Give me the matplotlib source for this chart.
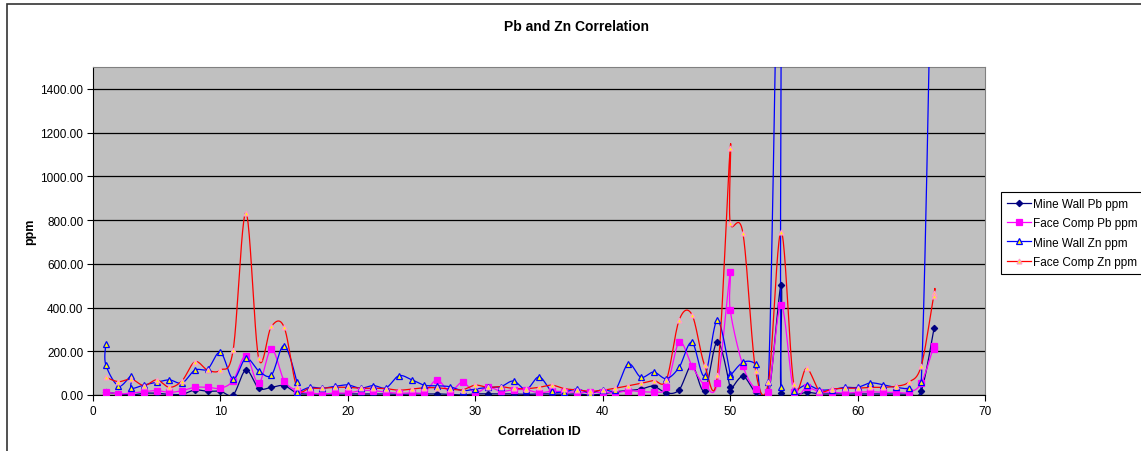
import numpy as np
import matplotlib.pyplot as plt
from matplotlib.lines import Line2D
from matplotlib.patches import Rectangle

plt.rcParams['font.family'] = ['Liberation Sans', 'DejaVu Sans']

nan = np.nan

# correlation ids (some ids were sampled twice)
ids = [1, 1, 2, 3, 3, 4, 5, 6, 7, 8, 9, 10, 11, 12, 13, 14, 15, 16, 16, 17,
       18, 19, 20, 21, 22, 23, 24, 25, 26, 27, 28, 29, 30, 31, 32, 33, 34, 35,
       36, 37, 38, 39, 40, 41, 42, 43, 44, 45, 46, 47, 48, 49, 50, 50, 51, 52,
       53, 54, 54, 55, 56, 57, 58, 59, 60, 61, 62, 63, 64, 65, 66, 66]

mine_wall_pb = [13, nan, 5, 0, nan, 8, 8, 3, 3, 23, 17, 17, 1, 114, 31, 35, 43, 9, nan, 5,
                5, 5, 5, 5, 5, 5, 3, 5, 5, 5, 3, 0, 5, 5, 5, 5, 3, 5,
                5, 3, 5, 0, 5, 15, 20, 27, 40, 9, 24, 134, 20, 244, 35, 20, 85, 12,
                0, 503, 9, 0, 12, 5, 5, 5, 5, 5, 5, 5, 5, 20, 305, nan]

face_comp_pb = [15, nan, 5, 9, nan, 15, 20, 12, 20, 35, 35, 31, 66, 180, 53, 210, 66, 20, nan, 9,
                5, 9, 9, 20, 20, 13, 8, 10, 13, 69, 16, 58, 10, 37, 17, 24, 24, 10,
                17, 15, 12, 12, 12, 10, 20, 15, 15, 35, 241, 134, 46, 55, 561, 390, 134, 27,
                15, 412, nan, 15, 35, 15, 12, 9, 12, 15, 12, 12, 12, 55, 226, 211]

mine_wall_zn = [233, 139, 41, 87, 32, 46, 58, 69, 55, 114, 119, 195, 73, 168, 111, 91, 226, 61, 15, 35,
                31, 40, 46, 31, 43, 33, 88, 70, 45, 42, 38, 20, 27, 35, 38, 64, 25, 83,
                18, 15, 27, 10, 25, 25, 142, 81, 105, 75, 127, 241, 88, 342, 96, 88, 149, 142,
                61, 2800, 38, 20, 46, 24, 25, 35, 35, 55, 47, 35, 31, 61, 2700, nan]

face_comp_zn = [81, nan, 61, 73, nan, 43, 69, 35, 66, 152, 114, 114, 206, 833, 168, 314, 310, 35, nan, 31,
                31, 35, 35, 31, 31, 29, 22, 27, 33, 33, 27, 24, 45, 35, 38, 30, 29, 35,
                45, 29, 23, 17, 22, 31, 42, 53, 66, 70, 343, 368, 136, 91, 1128, 788, 741, 111,
                58, 747, nan, 50, 122, 20, 27, 31, 31, 35, 35, 40, 58, 134, 467, 451]

series_names = ['Mine Wall Pb ppm', 'Face Comp Pb ppm', 'Mine Wall Zn ppm', 'Face Comp Zn ppm']


def smooth(xs, ys, n=24):
    # piecewise cubic bezier through the points, like a spreadsheet "smoothed line"
    pts = np.column_stack([xs, ys])
    ext = np.vstack([pts[0], pts, pts[-1]])
    t = np.linspace(0, 1, n)[:, None]
    segs = []
    for i in range(len(pts) - 1):
        p0, p3 = pts[i], pts[i + 1]
        p1 = p0 + (ext[i + 2] - ext[i]) / 6
        p2 = p3 - (ext[i + 3] - ext[i + 1]) / 6
        segs.append((1 - t)**3 * p0 + 3 * (1 - t)**2 * t * p1 + 3 * (1 - t) * t**2 * p2 + t**3 * p3)
    return np.vstack(segs)


fig = plt.figure(figsize=(11.41, 4.52), dpi=100)
ax = fig.add_axes([93 / 1141, 1 - 396 / 452, (985 - 93) / 1141, (396 - 68) / 452])
ax.set_facecolor('#C0C0C0')

styles = [
    dict(color='#000080', marker='D', mfc='#000080', mec='#000080', ms=3.2),
    dict(color='#FF00FF', marker='s', mfc='#FF00FF', mec='#FF00FF', ms=4),
    dict(color='#0000FF', marker='^', mfc='#FFFF00', mec='#0000FF', ms=4.5),
    dict(color='#FF0000', marker='^', mfc='#FFFF00', mec='#FF99CC', ms=3.5),
]

handles = []
x_all = np.array(ids, dtype=float)
for vals, st, name in zip([mine_wall_pb, face_comp_pb, mine_wall_zn, face_comp_zn], styles, series_names):
    v = np.array(vals, dtype=float)
    ok = ~np.isnan(v)
    curve = smooth(x_all[ok], v[ok])
    ax.plot(curve[:, 0], curve[:, 1], color=st['color'], lw=0.9, zorder=3)
    ax.plot(x_all[ok], v[ok], ls='none', marker=st['marker'], ms=st['ms'],
            mfc=st['mfc'], mec=st['mec'], mew=0.9, zorder=4)
    handles.append(Line2D([], [], color=st['color'], lw=0.9, marker=st['marker'], ms=st['ms'],
                          mfc=st['mfc'], mec=st['mec'], mew=0.9))

ax.set_xlim(0, 70)
ax.set_ylim(0, 1500)
ax.set_xticks(np.arange(0, 71, 10))
ax.set_yticks(np.arange(0, 1401, 200))
ax.set_yticklabels([f'{v:.2f}' for v in np.arange(0, 1401, 200)])
ax.tick_params(labelsize=8.5, length=4, width=0.8, color='black', pad=3)
ax.grid(axis='y', color='black', lw=0.9)
ax.set_axisbelow(True)
for side in ['top', 'right']:
    ax.spines[side].set_color('#808080')
for side in ['left', 'bottom']:
    ax.spines[side].set_color('black')

ax.set_xlabel('Correlation ID', fontsize=9, fontweight='bold', labelpad=6)
ax.set_ylabel('ppm', fontsize=9, fontweight='bold', labelpad=3)
fig.text(577 / 1141, 1 - 27 / 452, 'Pb and Zn Correlation', ha='center', va='center',
         fontsize=10, fontweight='bold')

leg = fig.legend(handles, series_names, loc='upper left', bbox_to_anchor=(1001 / 1141, 1 - 193 / 452),
                 borderaxespad=0, fontsize=8.5, frameon=True, fancybox=False, edgecolor='black',
                 framealpha=1, handlelength=2.0, borderpad=0.5, labelspacing=0.62, handletextpad=0.2)
leg.get_frame().set_linewidth(0.8)

# outer chart frame
fig.patches.append(Rectangle((7 / 1141, -0.1), 1.2, 1 - 5 / 452 + 0.1, transform=fig.transFigure,
                             fill=False, edgecolor='#333333', lw=1.2))

fig.savefig('out.png', dpi=100)
